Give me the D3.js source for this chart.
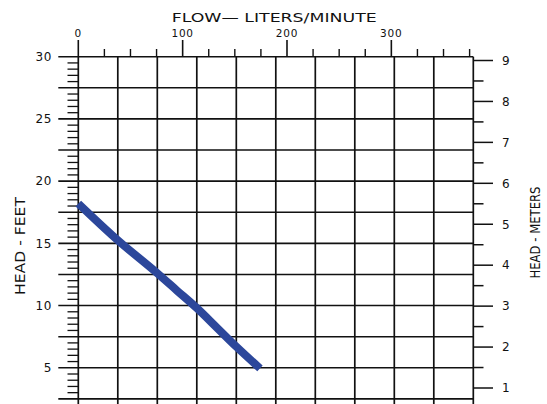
<!DOCTYPE html>
<html><head><meta charset="utf-8">
<script src="https://cdn.jsdelivr.net/npm/d3@7"></script>
<style>html,body{margin:0;padding:0;background:#fff;overflow:hidden}</style>
</head><body>
<svg id="c" width="547" height="404"></svg>
<script>
// Pump curve data (flow in US GPM on the hidden bottom axis, head in feet)
const flowGpm = [0, 10, 20, 25, 30, 35, 40, 46];
const headFt  = [18.2, 15.25, 12.6, 11.2, 9.8, 8.25, 6.7, 4.95];
const gpmGrid = [0,10,20,30,40,50,60,70,80,90,100];
const lpmMajor = [0, 100, 200, 300];
const lpmMinor = [25, 50, 75, 125, 150, 175, 225, 250, 275, 325, 350, 375];
const ftLabels = [5, 10, 15, 20, 25, 30];
const ftGrid = [2.5, 5, 7.5, 10, 12.5, 15, 17.5, 20, 22.5, 25, 27.5, 30];
const ftMinor = d3.range(0.5, 30.01, 0.5);
const mLabels = [1,2,3,4,5,6,7,8,9];
const mMinor = [1.5,2.5,3.5,4.5,5.5,6.5,7.5,8.5];

const svg = d3.select("#c");
const x = d3.scaleLinear().domain([0, 100]).range([78.3, 473.3]);
const xL = d3.scaleLinear().domain([0, 378.54]).range([78.3, 473.3]);
const y = d3.scaleLinear().domain([0, 30]).range([430, 56.7]);
const yM = d3.scaleLinear().domain([1, 9]).range([388, 60.5]);
const ink = "#111";
const font = "'DejaVu Sans', Arial, sans-serif";

// vertical grid lines
svg.append("g").selectAll("line").data(gpmGrid).join("line")
  .attr("x1", d => x(d)).attr("x2", d => x(d))
  .attr("y1", y(30)).attr("y2", y(0))
  .attr("stroke", ink).attr("stroke-width", 1.7);

// horizontal grid lines (extend left as major ticks)
svg.append("g").selectAll("line").data(ftGrid).join("line")
  .attr("x1", 58.3).attr("x2", x(100))
  .attr("y1", d => y(d)).attr("y2", d => y(d))
  .attr("stroke", ink).attr("stroke-width", 1.6);

// left minor ticks
svg.append("g").selectAll("line").data(ftMinor.filter(v => Math.abs(v/2.5 - Math.round(v/2.5)) > 1e-6)).join("line")
  .attr("x1", 67.5).attr("x2", x(0))
  .attr("y1", d => y(d)).attr("y2", d => y(d))
  .attr("stroke", ink).attr("stroke-width", 1.3);

// left labels
svg.append("g").selectAll("text").data(ftLabels).join("text")
  .attr("x", 52).attr("y", d => y(d) + 4.3)
  .attr("text-anchor", "end")
  .attr("font-family", font).attr("font-size", 12).attr("letter-spacing", 0.6)
  .attr("fill", ink).text(d => d);

// top axis ticks
svg.append("g").selectAll("line").data(lpmMajor).join("line")
  .attr("x1", d => xL(d)).attr("x2", d => xL(d))
  .attr("y1", 40).attr("y2", y(30))
  .attr("stroke", ink).attr("stroke-width", 1.6);
svg.append("g").selectAll("line").data(lpmMinor).join("line")
  .attr("x1", d => xL(d)).attr("x2", d => xL(d))
  .attr("y1", 49).attr("y2", y(30))
  .attr("stroke", ink).attr("stroke-width", 1.4);
svg.append("g").selectAll("text").data(lpmMajor).join("text")
  .attr("x", d => xL(d)).attr("y", 36.5)
  .attr("text-anchor", "middle")
  .attr("font-family", font).attr("font-size", 10.5).attr("letter-spacing", 0.8)
  .attr("fill", ink).text(d => d);

svg.append("text").attr("x", 274.2).attr("y", 22)
  .attr("text-anchor", "middle")
  .attr("font-family", font).attr("font-size", 12.5)
  .attr("textLength", 205).attr("lengthAdjust", "spacingAndGlyphs")
  .attr("fill", ink).text("FLOW\u2014  LITERS/MINUTE");

// right axis ticks (meters)
svg.append("g").selectAll("line").data(mLabels).join("line")
  .attr("x1", x(100)).attr("x2", 493)
  .attr("y1", d => yM(d)).attr("y2", d => yM(d))
  .attr("stroke", ink).attr("stroke-width", 1.5);
svg.append("g").selectAll("line").data(mMinor).join("line")
  .attr("x1", x(100)).attr("x2", 483.5)
  .attr("y1", d => yM(d)).attr("y2", d => yM(d))
  .attr("stroke", ink).attr("stroke-width", 1.5);
svg.append("g").selectAll("text").data(mLabels).join("text")
  .attr("x", 502).attr("y", d => yM(d) + 4.3)
  .attr("font-family", font).attr("font-size", 12)
  .attr("fill", ink).text(d => d);

// axis titles
svg.append("text").attr("transform", "translate(25,246) rotate(-90)")
  .attr("text-anchor", "middle")
  .attr("font-family", font).attr("font-size", 13.5)
  .attr("textLength", 98).attr("lengthAdjust", "spacingAndGlyphs")
  .attr("fill", ink).text("HEAD  -  FEET");
svg.append("text").attr("transform", "translate(540,232.5) rotate(-90)")
  .attr("text-anchor", "middle")
  .attr("font-family", font).attr("font-size", 13.5)
  .attr("textLength", 92).attr("lengthAdjust", "spacingAndGlyphs")
  .attr("fill", ink).text("HEAD  -  METERS");

// pump curve
const line = d3.line().x((d, i) => x(flowGpm[i])).y(d => y(d)).curve(d3.curveMonotoneX);
svg.append("path").datum(headFt)
  .attr("d", line)
  .attr("fill", "none").attr("stroke", "#2c479b").attr("stroke-width", 8)
  .attr("stroke-linecap", "butt").attr("stroke-linejoin", "round");
</script>
</body></html>
